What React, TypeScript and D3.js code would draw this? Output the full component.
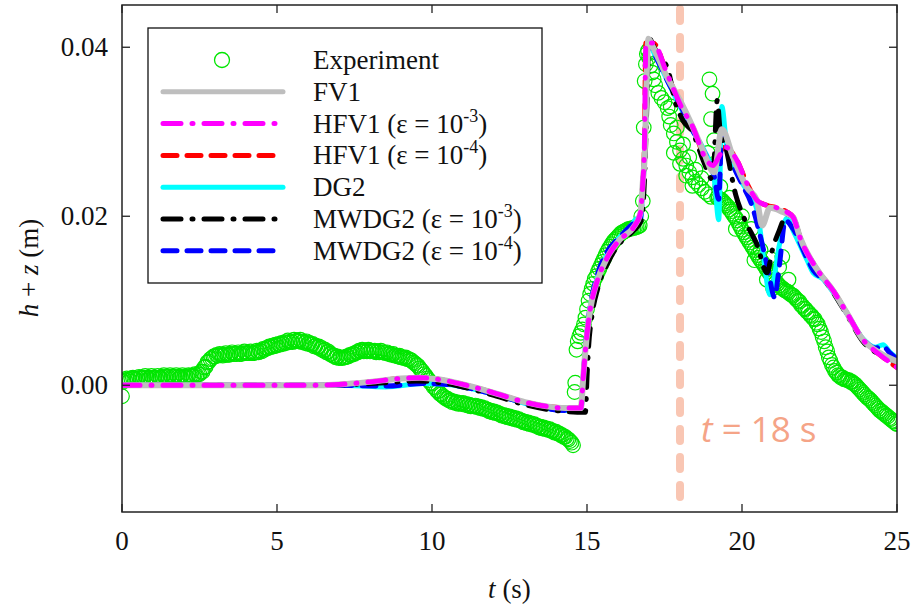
import React from 'react';
import * as d3 from 'd3';

const W = 912;
const H = 607;
const PLOT = { left: 122, right: 897, top: 5, bottom: 512 };

const xTicks = [0, 5, 10, 15, 20, 25];
const xTickLabels = ['0', '5', '10', '15', '20', '25'];
const yTicks = [0, 0.02, 0.04];
const yTickLabels = ['0.00', '0.02', '0.04'];
const xDomain = [0, 25];
const yDomain = [-0.015, 0.045];
const markerTime = 18;

// Experiment: [t (s), h+z (m)]
const experiment: [number, number][] = [
  [0, -0.0013], [0.03, 0.0004], [0.1, 0.0006], [0.2, 0.0007], [0.3, 0.0008], [0.4, 0.0008], [0.5, 0.0008], [0.6, 0.0009], [0.7, 0.0009], [0.8, 0.0009],
  [0.9, 0.0009], [1.0, 0.0009], [1.1, 0.0009], [1.2, 0.0009], [1.3, 0.001], [1.4, 0.001], [1.5, 0.001], [1.6, 0.001], [1.7, 0.001], [1.8, 0.001],
  [1.9, 0.001], [2.0, 0.001], [2.1, 0.001], [2.2, 0.0011], [2.3, 0.0011], [2.4, 0.0012], [2.5, 0.0013], [2.6, 0.0016], [2.7, 0.0022], [2.8, 0.0028],
  [2.9, 0.0032], [3.0, 0.0034], [3.1, 0.0035], [3.2, 0.0036], [3.3, 0.0036], [3.4, 0.0036], [3.5, 0.0037], [3.6, 0.0037], [3.7, 0.0037], [3.8, 0.0037],
  [3.9, 0.0038], [4.0, 0.0038], [4.1, 0.0038], [4.2, 0.0038], [4.3, 0.0039], [4.4, 0.0039], [4.5, 0.004], [4.6, 0.0042], [4.7, 0.0044], [4.8, 0.0045],
  [4.9, 0.0046], [5.0, 0.0047], [5.1, 0.0048], [5.2, 0.0049], [5.3, 0.005], [5.4, 0.0051], [5.5, 0.0051], [5.6, 0.0052], [5.7, 0.0052], [5.8, 0.0051],
  [5.9, 0.005], [6.0, 0.0049], [6.1, 0.0048], [6.2, 0.0046], [6.3, 0.0045], [6.4, 0.0043], [6.5, 0.0041], [6.6, 0.0039], [6.7, 0.0037], [6.8, 0.0035],
  [6.9, 0.0033], [7.0, 0.0032], [7.1, 0.0032], [7.2, 0.0033], [7.3, 0.0034], [7.4, 0.0036], [7.5, 0.0037], [7.6, 0.0039], [7.7, 0.004], [7.8, 0.004],
  [7.9, 0.004], [8.0, 0.004], [8.1, 0.004], [8.2, 0.0039], [8.3, 0.0039], [8.4, 0.0039], [8.5, 0.0038], [8.6, 0.0037], [8.7, 0.0036], [8.8, 0.0035],
  [8.9, 0.0034], [9.0, 0.0033], [9.1, 0.0032], [9.2, 0.0031], [9.3, 0.003], [9.4, 0.0027], [9.5, 0.0024], [9.6, 0.002], [9.7, 0.0016], [9.8, 0.0011],
  [9.9, 0.0006], [10.0, 0.0002], [10.1, -0.0003], [10.2, -0.0007], [10.3, -0.0011], [10.4, -0.0014], [10.5, -0.0016], [10.6, -0.0018], [10.7, -0.0019], [10.8, -0.002],
  [10.9, -0.0021], [11.0, -0.0021], [11.1, -0.0022], [11.2, -0.0023], [11.3, -0.0024], [11.4, -0.0024], [11.5, -0.0025], [11.6, -0.0026], [11.7, -0.0027], [11.8, -0.0029],
  [11.9, -0.003], [12.0, -0.0031], [12.1, -0.0032], [12.2, -0.0034], [12.3, -0.0035], [12.4, -0.0036], [12.5, -0.0037], [12.6, -0.0038], [12.7, -0.0039], [12.8, -0.004],
  [12.9, -0.0042], [13.0, -0.0043], [13.1, -0.0044], [13.2, -0.0045], [13.3, -0.0046], [13.4, -0.0048], [13.5, -0.0049], [13.6, -0.005], [13.7, -0.0051], [13.8, -0.0052],
  [13.9, -0.0054], [14.0, -0.0055], [14.1, -0.0057], [14.2, -0.0059], [14.3, -0.0061], [14.4, -0.0064], [14.5, -0.0068], [14.55, -0.0071],
  [0.05, 0.0005], [0.15, 0.0008], [0.25, 0.0006], [0.35, 0.0009], [0.45, 0.0007], [0.55, 0.001], [0.65, 0.0008], [0.75, 0.0011], [0.85, 0.0008], [0.95, 0.0011],
  [1.05, 0.0009], [1.15, 0.0011], [1.25, 0.0009], [1.35, 0.0012], [1.45, 0.001], [1.55, 0.0012], [1.65, 0.001], [1.75, 0.0012], [1.85, 0.0009], [1.95, 0.0012],
  [2.05, 0.001], [2.15, 0.0012], [2.25, 0.0011], [2.35, 0.0013], [2.45, 0.0013], [2.55, 0.0016], [2.65, 0.0021], [2.75, 0.0027], [2.85, 0.0031], [2.95, 0.0034],
  [3.05, 0.0036], [3.15, 0.0037], [3.25, 0.0035], [3.35, 0.0038], [3.45, 0.0036], [3.55, 0.0039], [3.65, 0.0037], [3.75, 0.0039], [3.85, 0.0037], [3.95, 0.004],
  [4.05, 0.0038], [4.15, 0.004], [4.25, 0.0038], [4.35, 0.0041], [4.45, 0.0041], [4.55, 0.0043], [4.65, 0.0044], [4.75, 0.0046], [4.85, 0.0047], [4.95, 0.0048],
  [5.05, 0.0049], [5.15, 0.005], [5.25, 0.0051], [5.35, 0.0053], [5.45, 0.0052], [5.55, 0.0054], [5.65, 0.0053], [5.75, 0.0054], [5.85, 0.0052], [5.95, 0.0052],
  [6.05, 0.005], [6.15, 0.0049], [6.25, 0.0047], [6.35, 0.0046], [6.45, 0.0044], [6.55, 0.0042], [6.65, 0.004], [6.75, 0.0037], [6.85, 0.0035], [6.95, 0.0034],
  [7.05, 0.0033], [7.15, 0.0033], [7.25, 0.0034], [7.35, 0.0036], [7.45, 0.0037], [7.55, 0.0039], [7.65, 0.0041], [7.75, 0.0042], [7.85, 0.0041], [7.95, 0.0042],
  [8.05, 0.0041], [8.15, 0.0041], [8.25, 0.004], [8.35, 0.0041], [8.45, 0.0039], [8.55, 0.0039], [8.65, 0.0037], [8.75, 0.0037], [8.85, 0.0035], [8.95, 0.0035],
  [9.05, 0.0033], [9.15, 0.0033], [9.25, 0.0031], [9.35, 0.0029], [9.45, 0.0026], [9.55, 0.0023], [9.65, 0.0018], [9.75, 0.0013], [9.85, 0.0008], [9.95, 0.0003],
  [10.05, -0.0002], [10.15, -0.0006], [10.25, -0.001], [10.35, -0.0013], [10.45, -0.0016], [10.55, -0.0018], [10.65, -0.002], [10.75, -0.0021], [10.85, -0.0022], [10.95, -0.0022],
  [11.05, -0.0023], [11.15, -0.0024], [11.25, -0.0025], [11.35, -0.0025], [11.45, -0.0026], [11.55, -0.0027], [11.65, -0.0028], [11.75, -0.0029], [11.85, -0.0031], [11.95, -0.0032],
  [12.05, -0.0033], [12.15, -0.0034], [12.25, -0.0036], [12.35, -0.0037], [12.45, -0.0038], [12.55, -0.0039], [12.65, -0.004], [12.75, -0.0041], [12.85, -0.0042], [12.95, -0.0044],
  [13.05, -0.0045], [13.15, -0.0046], [13.25, -0.0047], [13.35, -0.0048], [13.45, -0.005], [13.55, -0.0051], [13.65, -0.0052], [13.75, -0.0053], [13.85, -0.0054], [13.95, -0.0056],
  [14.05, -0.0057], [14.15, -0.0059], [14.25, -0.0061], [14.35, -0.0063], [14.45, -0.0066],
  [14.6, -0.0008], [14.62, 0.0003], [14.66, 0.0042], [14.7, 0.0052], [14.75, 0.0058], [14.8, 0.0062], [14.85, 0.0066], [14.9, 0.0072], [14.95, 0.008], [15.0, 0.009],
  [15.05, 0.01], [15.1, 0.0108], [15.15, 0.0114], [15.2, 0.012], [15.3, 0.0129], [15.4, 0.0138], [15.5, 0.0146], [15.6, 0.0154], [15.7, 0.0161], [15.8, 0.0167],
  [15.9, 0.0172], [16.0, 0.0176], [16.1, 0.018], [16.2, 0.0182], [16.3, 0.0184], [16.4, 0.0185], [16.5, 0.0186], [16.6, 0.0187], [16.7, 0.0189], [16.75, 0.02],
  [15.25, 0.0126], [15.35, 0.0134], [15.45, 0.0142], [15.55, 0.015], [15.65, 0.0158], [15.75, 0.0164], [15.85, 0.017], [15.95, 0.0174], [16.05, 0.0178], [16.15, 0.0181],
  [16.25, 0.0183], [16.35, 0.0185], [16.45, 0.0186], [16.55, 0.0187], [16.65, 0.0188],
  [16.8, 0.0218], [16.83, 0.0305], [16.86, 0.036], [16.9, 0.038], [16.93, 0.0392], [16.97, 0.0396], [17.0, 0.0388], [17.05, 0.0378], [17.1, 0.037], [17.15, 0.0362],
  [17.2, 0.0355], [17.3, 0.0346], [17.4, 0.034], [17.5, 0.0335], [17.6, 0.0328], [17.65, 0.0318], [17.7, 0.0308], [17.8, 0.0298], [17.9, 0.0288], [18.0, 0.0278],
  [18.1, 0.0268], [18.2, 0.026], [18.3, 0.0252], [18.4, 0.0246], [18.5, 0.0241], [18.6, 0.0237], [18.7, 0.0233], [18.8, 0.0229], [18.9, 0.0226], [19.0, 0.0223],
  [17.7, 0.033], [17.9, 0.0305], [18.1, 0.0285], [18.3, 0.027], [18.5, 0.0255], [18.7, 0.0245], [17.8, 0.0275], [18.0, 0.0262], [18.2, 0.0248], [18.4, 0.0236],
  [18.95, 0.0362], [19.05, 0.0345], [19.0, 0.0315], [19.1, 0.029], [18.9, 0.0275], [19.1, 0.0262],
  [19.2, 0.0222], [19.3, 0.022], [19.4, 0.0217], [19.5, 0.0213], [19.6, 0.0208], [19.7, 0.0203], [19.8, 0.0198], [19.9, 0.0191], [20.0, 0.0184], [20.1, 0.0178],
  [20.2, 0.0172], [20.3, 0.0166], [20.4, 0.016], [20.5, 0.0154], [20.6, 0.0148], [20.7, 0.0143], [20.8, 0.0137], [20.9, 0.0132], [21.0, 0.0127], [21.1, 0.0122],
  [21.2, 0.0118], [21.3, 0.0115], [21.4, 0.0112], [21.5, 0.011], [21.6, 0.0107], [21.7, 0.0104], [21.8, 0.01], [21.9, 0.0095], [22.0, 0.0091], [22.1, 0.0087],
  [19.3, 0.0235], [19.6, 0.0222], [20.0, 0.02], [20.3, 0.0185], [20.6, 0.016], [20.9, 0.015], [21.2, 0.014], [21.3, 0.0152], [21.5, 0.0125], [19.8, 0.0185],
  [20.4, 0.0148], [20.8, 0.0125], [21.0, 0.0115],
  [19.25, 0.0221], [19.35, 0.0219], [19.45, 0.0215], [19.55, 0.0211], [19.65, 0.0206], [19.75, 0.02], [19.85, 0.0195], [19.95, 0.0188], [20.05, 0.0181], [20.15, 0.0175],
  [20.25, 0.0169], [20.35, 0.0163], [20.45, 0.0157], [20.55, 0.0151], [20.65, 0.0146], [20.75, 0.014], [20.85, 0.0135], [20.95, 0.013], [21.05, 0.0125], [21.15, 0.012],
  [21.25, 0.0116], [21.35, 0.0113], [21.45, 0.0111], [21.55, 0.0108], [21.65, 0.0106], [21.75, 0.0102],
  [22.2, 0.0083], [22.3, 0.0079], [22.4, 0.0074], [22.5, 0.0067], [22.6, 0.0057], [22.7, 0.0045], [22.8, 0.0033], [22.9, 0.0024], [23.0, 0.0017], [23.1, 0.0012],
  [23.2, 0.0009], [23.3, 0.0007], [23.4, 0.0006], [23.5, 0.0004], [23.6, 0.0002], [23.7, -0.0001], [23.8, -0.0005], [23.9, -0.0009], [24.0, -0.0013], [24.1, -0.0016],
  [24.2, -0.002], [24.3, -0.0024], [24.4, -0.0028], [24.5, -0.0031], [24.6, -0.0034], [24.7, -0.0037], [24.8, -0.004], [24.9, -0.0043], [25.0, -0.0046],
  [21.85, 0.0099], [21.95, 0.0094], [22.05, 0.009], [22.15, 0.0086], [22.25, 0.0082], [22.35, 0.0078], [22.45, 0.0072], [22.55, 0.0063], [22.65, 0.0052], [22.75, 0.004],
  [22.85, 0.0029], [22.95, 0.0021], [23.05, 0.0015], [23.15, 0.0011], [23.25, 0.0009], [23.35, 0.0007], [23.45, 0.0006], [23.55, 0.0004], [23.65, 0.0001], [23.75, -0.0003],
  [23.85, -0.0007], [23.95, -0.0011], [24.05, -0.0015], [24.15, -0.0018], [24.25, -0.0022], [24.35, -0.0026], [24.45, -0.003], [24.55, -0.0033], [24.65, -0.0036], [24.75, -0.0039],
  [24.85, -0.0042], [24.95, -0.0045],
];

const fv1: [number, number][] = [
  [0, 0], [6, 0], [7, 0.0001], [8, 0.0004], [9, 0.0008], [9.6, 0.0009], [10.2, 0.0007], [11, 0.0001], [12, -0.0009], [13, -0.002],
  [13.7, -0.0025], [14.3, -0.0027], [14.8, -0.0027], [14.88, 0.001], [14.95, 0.0042], [15.1, 0.0089], [15.3, 0.012], [15.65, 0.0151], [16.05, 0.0172], [16.5, 0.0187],
  [16.72, 0.0203], [16.8, 0.024], [16.87, 0.028], [16.93, 0.037], [16.98, 0.041], [17.13, 0.04], [17.58, 0.0365], [18.0, 0.0337], [18.42, 0.0305], [18.74, 0.0278],
  [19.1, 0.0252], [19.35, 0.0303], [19.71, 0.027], [19.94, 0.025], [20.16, 0.0234], [20.48, 0.0219], [20.65, 0.0189], [20.9, 0.021], [21.32, 0.0205], [21.65, 0.0199],
  [21.87, 0.0175], [22.3, 0.0144], [22.5, 0.0133], [22.94, 0.0112], [23.39, 0.0085], [23.9, 0.0054], [24.45, 0.0038], [25, 0.0028],
];

const hfv1e3: [number, number][] = [
  [0, 0], [6, 0], [7, 0.0001], [8, 0.0004], [9, 0.0008], [9.6, 0.0009], [10.2, 0.0007], [11, 0.0001], [12, -0.0009], [13, -0.002],
  [13.7, -0.0025], [14.3, -0.0027], [14.8, -0.0027], [14.88, 0.001], [14.95, 0.0042], [15.1, 0.0089], [15.3, 0.012], [15.65, 0.0151], [16.05, 0.0172], [16.5, 0.0187],
  [16.72, 0.0203], [16.8, 0.024], [16.85, 0.028], [16.9, 0.0405], [17.13, 0.0405], [17.58, 0.0369], [18.05, 0.0329], [18.42, 0.0305], [18.8, 0.027], [19.06, 0.026],
  [19.25, 0.027], [19.45, 0.0282], [19.84, 0.0266], [20.16, 0.0239], [20.48, 0.0219], [20.8, 0.0213], [21.13, 0.021], [21.45, 0.0205], [21.65, 0.0199],
  [21.87, 0.0175], [22.3, 0.0144], [22.5, 0.0133], [22.94, 0.0112], [23.39, 0.0085], [23.9, 0.0054], [24.45, 0.0036], [25, 0.0021],
];

// hidden under HFV1 (ε = 1e-3) in the reference
const hfv1e4: [number, number][] = [
  [0, 0], [6, 0], [7, 0.0001], [8, 0.0004], [9, 0.0008], [9.6, 0.0009], [10.2, 0.0007], [11, 0.0001], [12, -0.0009], [13, -0.002],
  [13.7, -0.0025], [14.3, -0.0027], [14.8, -0.0027], [14.88, 0.001], [14.95, 0.0042], [15.1, 0.0089], [15.3, 0.012], [15.65, 0.0151], [16.05, 0.0172], [16.5, 0.0187],
  [16.72, 0.0203], [16.8, 0.024], [16.85, 0.028], [16.9, 0.0405], [17.13, 0.0405], [17.58, 0.0369], [18.05, 0.0329], [18.42, 0.0305], [18.8, 0.027], [19.06, 0.026],
  [19.25, 0.027], [19.45, 0.0282], [19.84, 0.0266], [20.16, 0.0239], [20.48, 0.0219], [20.8, 0.0213], [21.13, 0.021], [21.45, 0.0205], [21.65, 0.0199],
  [21.87, 0.0175], [22.3, 0.0144], [22.5, 0.0133], [22.94, 0.0112], [23.39, 0.0085], [23.9, 0.0054], [24.45, 0.0036], [25, 0.0021],
];

const dg2: [number, number][] = [
  [0, 0], [7, 0], [8.5, -0.0002], [9.7, 0.0002], [10.5, 0.0001], [11.5, -0.0006], [12.5, -0.0016], [13.5, -0.0026], [14.3, -0.003], [14.8, -0.003],
  [14.88, 0.001], [14.95, 0.0045], [15.1, 0.0092], [15.3, 0.0123], [15.65, 0.0155], [16.05, 0.0175], [16.45, 0.019], [16.6, 0.0197], [16.72, 0.0195], [16.8, 0.0235],
  [16.87, 0.028], [16.93, 0.037], [16.98, 0.0405], [17.2, 0.039], [17.6, 0.036], [18.0, 0.033], [18.4, 0.0302], [18.75, 0.028], [19.1, 0.0245], [19.25, 0.0196],
  [19.35, 0.033], [19.5, 0.0285], [19.7, 0.0262], [20.0, 0.024], [20.3, 0.0222], [20.5, 0.0205], [20.7, 0.015], [20.9, 0.0107], [21.0, 0.012], [21.2, 0.0165],
  [21.45, 0.0198], [21.65, 0.0183], [22.1, 0.0148], [22.3, 0.0133], [22.6, 0.0126], [22.9, 0.0112], [23.4, 0.0084], [23.9, 0.0055], [24.3, 0.0045], [24.55, 0.0048],
  [24.75, 0.004], [25, 0.0032],
];

const mwdg2e3: [number, number][] = [
  [0, 0], [6, 0], [7.5, 0.0001], [8.5, 0.0003], [9.5, 0.0005], [10.3, 0.0003], [11, -0.0002], [12, -0.0012], [13, -0.0023], [14, -0.003],
  [14.95, -0.0032], [15.0, 0.001], [15.05, 0.0045], [15.15, 0.008], [15.35, 0.0115], [15.7, 0.0147], [16.1, 0.017], [16.5, 0.0183], [16.75, 0.0195], [16.85, 0.024],
  [16.93, 0.033], [17.0, 0.0412], [17.1, 0.0405], [17.3, 0.039], [17.6, 0.0375], [17.85, 0.0335], [18.1, 0.0313], [18.4, 0.03], [18.75, 0.0266], [19.06, 0.0243],
  [19.2, 0.0337], [19.3, 0.03], [19.45, 0.0285], [19.8, 0.0225], [20.1, 0.0195], [20.5, 0.0165], [20.8, 0.0133], [21.0, 0.0163], [21.2, 0.0183], [21.45, 0.0202],
  [21.65, 0.0199], [21.87, 0.0175], [22.3, 0.0144], [22.94, 0.011], [23.39, 0.0083], [23.9, 0.0052], [24.45, 0.0036], [25, 0.0028],
];

const mwdg2e4: [number, number][] = [
  [0, 0], [7, 0], [8.5, -0.0001], [9.7, 0.0002], [10.5, 0.0001], [11.5, -0.0006], [12.5, -0.0016], [13.5, -0.0026], [14.3, -0.003], [14.8, -0.003],
  [14.88, 0.001], [14.95, 0.0045], [15.1, 0.0093], [15.3, 0.0126], [15.65, 0.0158], [16.05, 0.0175], [16.45, 0.019], [16.72, 0.0196], [16.8, 0.0235], [16.87, 0.028],
  [16.93, 0.037], [16.98, 0.0405], [17.2, 0.039], [17.6, 0.036], [18.0, 0.0332], [18.4, 0.0302], [18.75, 0.0278], [19.1, 0.0248], [19.25, 0.022], [19.35, 0.03],
  [19.5, 0.0285], [19.7, 0.0262], [20.0, 0.0238], [20.3, 0.0215], [20.6, 0.0175], [20.85, 0.0135], [21.05, 0.0104], [21.2, 0.014], [21.4, 0.0195], [21.65, 0.0185],
  [22.1, 0.015], [22.3, 0.0136], [22.6, 0.0126], [22.9, 0.0114], [23.4, 0.0084], [23.9, 0.0055], [24.3, 0.0044], [24.55, 0.0046], [24.75, 0.0039], [25, 0.0031],
];

const GREEN = '#00e600';
const DASHDOT = '18 11 1 11';
const DASHED = '14 10';

type Series = { key: string; data: [number, number][]; color: string; width: number; dash?: string };

// drawing order (bottom to top)
const lineSeries: Series[] = [
  { key: 'hfv1e4', data: hfv1e4, color: '#ff0000', width: 5, dash: DASHED },
  { key: 'dg2', data: dg2, color: '#00ffff', width: 5 },
  { key: 'mwdg2e4', data: mwdg2e4, color: '#0000ff', width: 5, dash: DASHED },
  { key: 'mwdg2e3', data: mwdg2e3, color: '#000000', width: 5, dash: DASHDOT },
  { key: 'fv1', data: fv1, color: '#bebebe', width: 6 },
  { key: 'hfv1e3', data: hfv1e3, color: '#ff00ff', width: 5, dash: DASHDOT },
];

type LegendItem = { kind: 'circle' | 'line'; color: string; width?: number; dash?: string; name: string; eps?: string };
const legendItems: LegendItem[] = [
  { kind: 'circle', color: GREEN, name: 'Experiment' },
  { kind: 'line', color: '#bebebe', width: 5, name: 'FV1' },
  { kind: 'line', color: '#ff00ff', width: 5, dash: DASHDOT, name: 'HFV1', eps: '-3' },
  { kind: 'line', color: '#ff0000', width: 5, dash: DASHED, name: 'HFV1', eps: '-4' },
  { kind: 'line', color: '#00ffff', width: 5, name: 'DG2' },
  { kind: 'line', color: '#000000', width: 5, dash: DASHDOT, name: 'MWDG2', eps: '-3' },
  { kind: 'line', color: '#0000ff', width: 5, dash: DASHED, name: 'MWDG2', eps: '-4' },
];

const FONT = '"Liberation Serif", "Times New Roman", serif';
const FS = 27;

export default function App() {
  const x = d3.scaleLinear().domain(xDomain).range([PLOT.left, PLOT.right]);
  const y = d3.scaleLinear().domain(yDomain).range([PLOT.bottom, PLOT.top]);
  const line = d3
    .line<[number, number]>()
    .x((d) => x(d[0]))
    .y((d) => y(d[1]))
    .curve(d3.curveMonotoneX);

  const axisColor = '#222';
  const tickLen = 8;
  const mx = x(markerTime);

  const legend = { x: 148, y: 28, w: 394, h: 255 };
  const rowY = (i: number) => 60 + i * 31.8;

  return (
    <svg width={W} height={H} style={{ position: 'absolute', left: 0, top: 0, background: '#fff' }} fontFamily={FONT}>
      <defs>
        <clipPath id="plotClip">
          <rect x={PLOT.left} y={PLOT.top} width={PLOT.right - PLOT.left} height={PLOT.bottom - PLOT.top} />
        </clipPath>
      </defs>
      <rect x={0} y={0} width={W} height={H} fill="#fff" />

      {/* marker line t = 18 s */}
      <line x1={mx} x2={mx} y1={PLOT.top + 4} y2={PLOT.bottom - 4} stroke="#f9c6b3" strokeWidth={8}
        strokeDasharray="12 16" strokeLinecap="round" />

      <g clipPath="url(#plotClip)">
        {experiment.map((d, i) => (
          <circle key={i} cx={x(d[0])} cy={y(d[1])} r={7.3} fill="none" stroke={GREEN} strokeWidth={1.2} />
        ))}
        {lineSeries.map((s) => (
          <path key={s.key} d={line(s.data) || ''} fill="none" stroke={s.color} strokeWidth={s.width}
            strokeDasharray={s.dash} strokeLinecap="round" strokeLinejoin="round" />
        ))}
      </g>

      <text x={701} y={442} fontFamily='"Open Sans", sans-serif' fontSize={35} fill="#f5a487">
        <tspan fontStyle="italic">t</tspan>
        <tspan> = 18 s</tspan>
      </text>

      {/* frame */}
      <rect x={PLOT.left} y={PLOT.top} width={PLOT.right - PLOT.left} height={PLOT.bottom - PLOT.top}
        fill="none" stroke={axisColor} strokeWidth={1.5} />

      {/* x ticks */}
      {xTicks.map((t, i) => (
        <g key={'xt' + i}>
          <line x1={x(t)} x2={x(t)} y1={PLOT.bottom} y2={PLOT.bottom - tickLen} stroke={axisColor} strokeWidth={1.3} />
          <line x1={x(t)} x2={x(t)} y1={PLOT.top} y2={PLOT.top + tickLen} stroke={axisColor} strokeWidth={1.3} />
          <text x={x(t)} y={550} textAnchor="middle" fontSize={FS} fill="#111">{xTickLabels[i]}</text>
        </g>
      ))}
      {/* y ticks */}
      {yTicks.map((v, i) => (
        <g key={'yt' + i}>
          <line x1={PLOT.left} x2={PLOT.left + tickLen} y1={y(v)} y2={y(v)} stroke={axisColor} strokeWidth={1.3} />
          <line x1={PLOT.right} x2={PLOT.right - tickLen} y1={y(v)} y2={y(v)} stroke={axisColor} strokeWidth={1.3} />
          <text x={108} y={y(v) + 9} textAnchor="end" fontSize={FS} fill="#111">{yTickLabels[i]}</text>
        </g>
      ))}

      {/* axis labels */}
      <text x={(PLOT.left + PLOT.right) / 2} y={598} textAnchor="middle" fontSize={FS} fill="#111">
        <tspan fontStyle="italic">t</tspan>
        <tspan> (s)</tspan>
      </text>
      <text transform={`translate(38, 268) rotate(-90)`} textAnchor="middle" fontSize={FS} fill="#111">
        <tspan fontStyle="italic">h</tspan>
        <tspan> + </tspan>
        <tspan fontStyle="italic">z</tspan>
        <tspan> (m)</tspan>
      </text>

      {/* legend */}
      <rect x={legend.x} y={legend.y} width={legend.w} height={legend.h} fill="#fff" stroke="#111" strokeWidth={1.3} />
      {legendItems.map((it, i) => {
        const cy = rowY(i);
        return (
          <g key={'lg' + i}>
            {it.kind === 'circle' ? (
              <circle cx={222} cy={cy} r={7.5} fill="none" stroke={it.color} strokeWidth={1.3} />
            ) : (
              <line x1={163} x2={283} y1={cy} y2={cy} stroke={it.color} strokeWidth={it.width}
                strokeDasharray={it.dash} strokeLinecap="round" />
            )}
            <text x={313} y={cy + 9} fontSize={FS} fill="#111">
              {it.name}
              {it.eps ? (
                <>
                  <tspan> (ε = 10</tspan>
                  <tspan fontSize={18} dy={-11}>{it.eps}</tspan>
                  <tspan dy={11}>)</tspan>
                </>
              ) : null}
            </text>
          </g>
        );
      })}
    </svg>
  );
}
